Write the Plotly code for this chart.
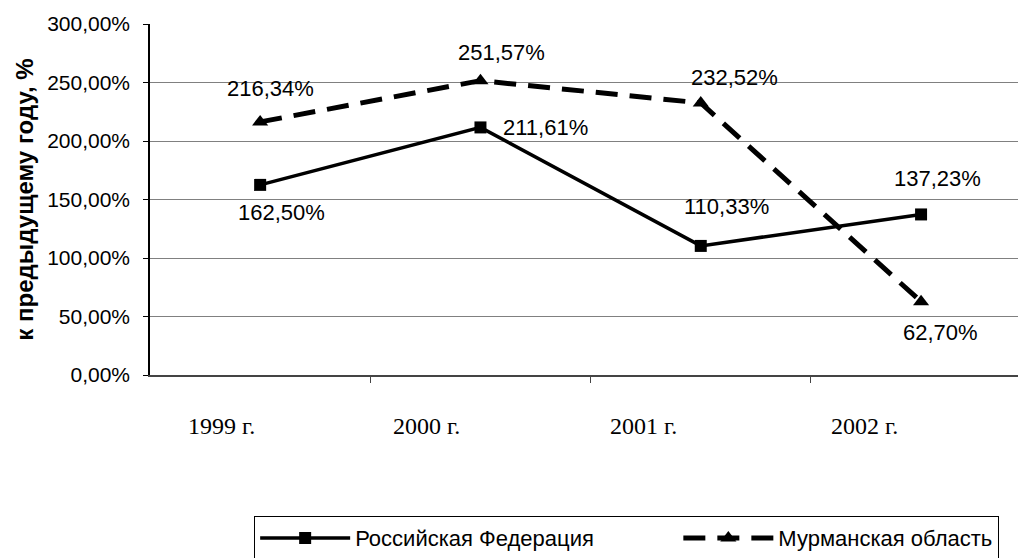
import plotly.graph_objects as go

# Годовые данные
years = ["1999 г.", "2000 г.", "2001 г.", "2002 г."]
russia = [162.50, 211.61, 110.33, 137.23]
murmansk = [216.34, 251.57, 232.52, 62.70]
series_names = ["Российская Федерация", "Мурманская область"]
y_ticks = [0, 50, 100, 150, 200, 250, 300]

SANS = "Liberation Sans, Arial, sans-serif"
SERIF = "Liberation Serif, Times New Roman, serif"

def pct(v):
    return f"{v:.2f}".replace(".", ",") + "%"

xs = list(range(len(years)))

fig = go.Figure()
# неразрывные пробелы раздвигают элементы легенды
fig.add_trace(go.Scatter(
    x=xs, y=russia, name=series_names[0] + "\u00a0" * 13, mode="lines+markers",
    line=dict(color="black", width=3.5),
    marker=dict(symbol="square", size=12, color="black"),
))
fig.add_trace(go.Scatter(
    x=xs, y=murmansk, name=series_names[1], mode="lines+markers",
    line=dict(color="black", width=5, dash="22px,12px"),
    marker=dict(symbol="triangle-up", size=14, color="black"),
))

# Подписи значений: (dx, dy) в пикселях относительно точки
rus_off = [(21, -28), (65, 0), (26, 39), (16, 36)]
mur_off = [(10, 33), (21, 28), (34, 25), (19, -31)]
ann = []
for i, v in enumerate(russia):
    ann.append(dict(x=i, y=v, xref="x", yref="y", text=pct(v), showarrow=False,
                    xshift=rus_off[i][0], yshift=rus_off[i][1],
                    font=dict(family=SANS, size=22, color="black")))
for i, v in enumerate(murmansk):
    ann.append(dict(x=i, y=v, xref="x", yref="y", text=pct(v), showarrow=False,
                    xshift=mur_off[i][0], yshift=mur_off[i][1],
                    font=dict(family=SANS, size=22, color="black")))

# Подписи категорий под осью
cat_shift = [-39, -54, -57, -57]
for i, lab in enumerate(years):
    ann.append(dict(x=i, y=-0.145, xref="x", yref="paper", text=lab, showarrow=False,
                    xshift=cat_shift[i], yanchor="middle",
                    font=dict(family=SERIF, size=24, color="black")))

# Заголовок оси Y
ann.append(dict(x=-0.145, y=0.5, xref="paper", yref="paper",
                text="<b>к предыдущему году, %</b>", textangle=-90, showarrow=False,
                xanchor="center", yanchor="middle",
                font=dict(family=SANS, size=24, color="black")))

fig.update_layout(
    width=1018, height=558,
    margin=dict(l=150, r=0, t=24, b=183, autoexpand=False),
    paper_bgcolor="white", plot_bgcolor="white",
    annotations=ann,
    showlegend=True,
    legend=dict(
        orientation="h", x=0.12, y=-0.402, xanchor="left", yanchor="top",
        bordercolor="black", borderwidth=1, bgcolor="white",
        font=dict(family=SANS, size=22, color="black"),
        itemwidth=90, tracegroupgap=0,
    ),
)

fig.update_xaxes(
    range=[-0.5, 3.44], showgrid=False, zeroline=False,
    showline=True, linecolor="#444444", linewidth=2,
    tickmode="array", tickvals=[0.5, 1.5, 2.5], ticks="outside", ticklen=6,
    tickcolor="#444444", showticklabels=False, fixedrange=True,
)
fig.update_yaxes(
    range=[0, 300], tickmode="array", tickvals=y_ticks,
    ticktext=[pct(v) for v in y_ticks],
    showgrid=True, gridcolor="#808080", gridwidth=1, zeroline=False,
    showline=True, linecolor="black", linewidth=1.5,
    ticks="outside", ticklen=5, tickcolor="black",
    ticklabelstandoff=9,
    tickfont=dict(family=SANS, size=21, color="black"),
)

fig.write_html("out.html")
